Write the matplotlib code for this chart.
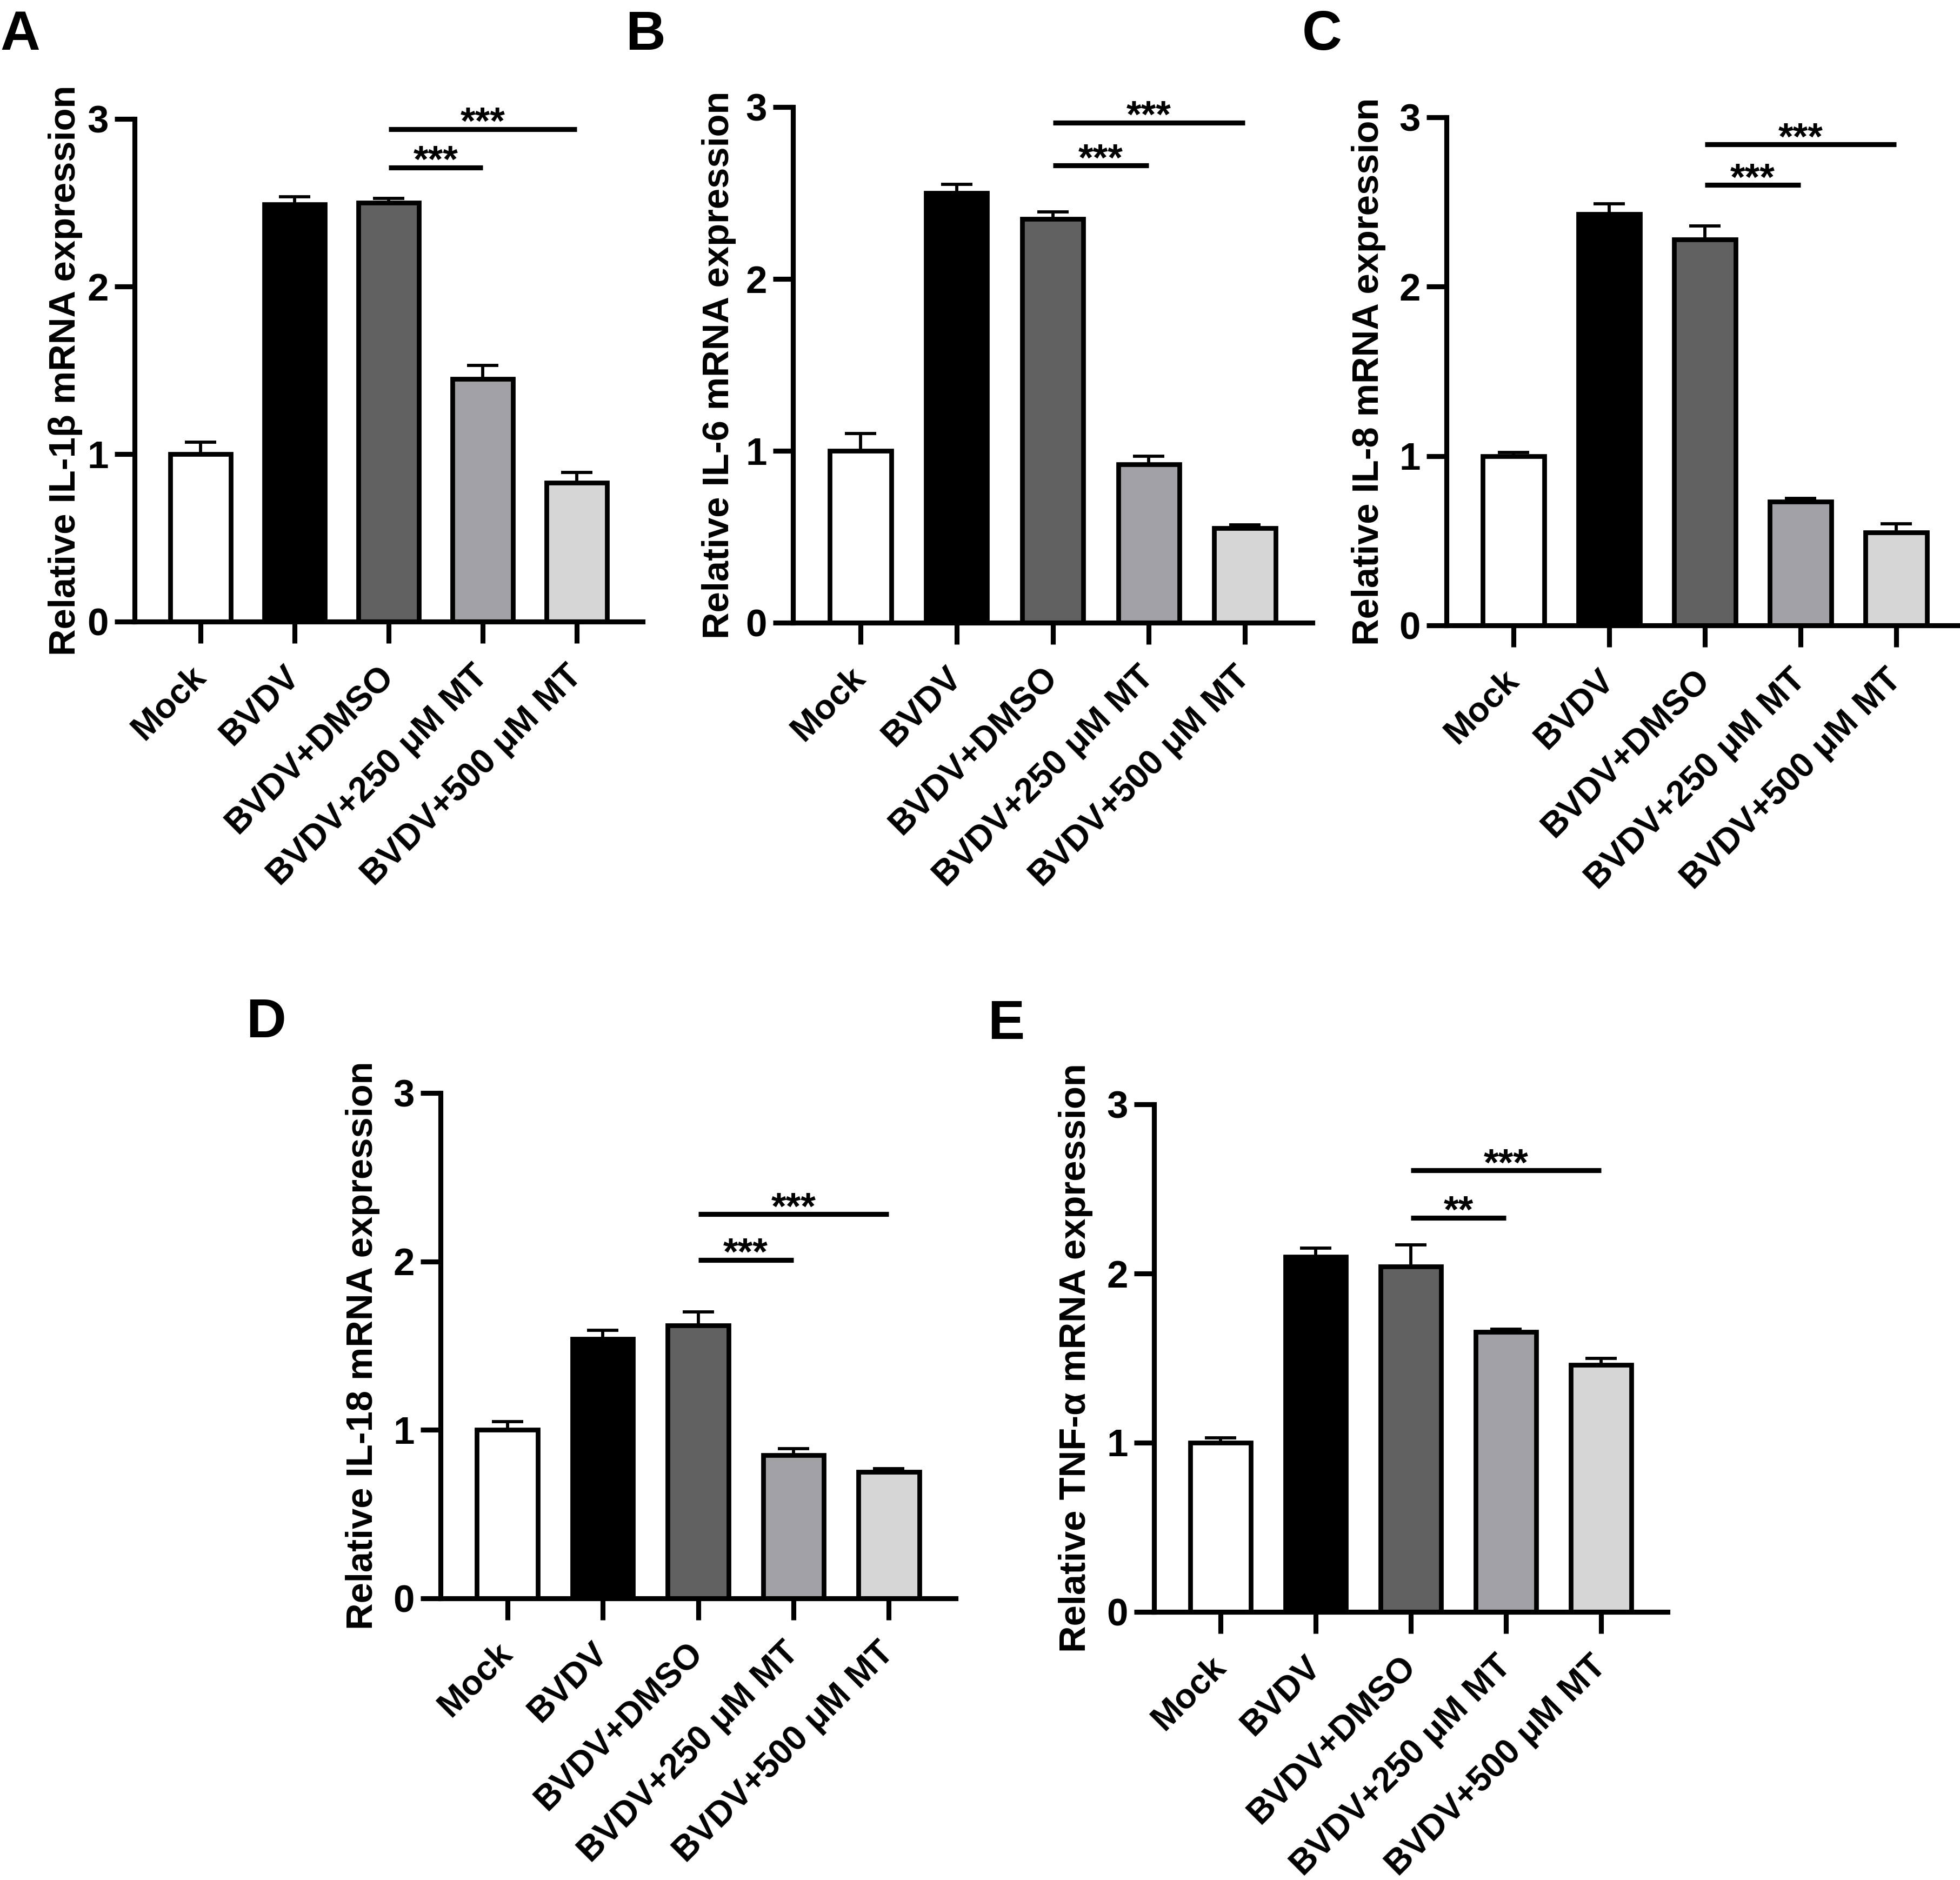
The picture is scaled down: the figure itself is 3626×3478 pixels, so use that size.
import numpy as np
import matplotlib
matplotlib.use("Agg")
import matplotlib.pyplot as plt

plt.rcParams["font.family"] = ["Liberation Sans", "DejaVu Sans"]
plt.rcParams["font.weight"] = "bold"

W, H = 3626, 3478
DPI = 300

groups = ["Mock", "BVDV", "BVDV+DMSO", "BVDV+250 μM MT", "BVDV+500 μM MT"]
bar_colors = ["#ffffff", "#000000", "#616161", "#a2a1a6", "#d6d6d6"]

il1b_mean = [1.00, 2.49, 2.50, 1.45, 0.83]
il1b_err = [0.07, 0.045, 0.025, 0.08, 0.06]
il6_mean = [1.00, 2.50, 2.35, 0.92, 0.55]
il6_err = [0.10, 0.05, 0.04, 0.05, 0.02]
il8_mean = [1.00, 2.43, 2.28, 0.73, 0.55]
il8_err = [0.02, 0.06, 0.08, 0.02, 0.05]
il18_mean = [1.00, 1.54, 1.62, 0.85, 0.75]
il18_err = [0.05, 0.05, 0.08, 0.04, 0.02]
tnf_mean = [1.00, 2.10, 2.04, 1.655, 1.46]
tnf_err = [0.03, 0.05, 0.13, 0.015, 0.04]

# significance brackets: (from group, to group, height, stars)
il1b_sig = [(2, 3, 2.71, "***"), (2, 4, 2.94, "***")]
il6_sig = [(2, 3, 2.66, "***"), (2, 4, 2.91, "***")]
il8_sig = [(2, 3, 2.60, "***"), (2, 4, 2.84, "***")]
il18_sig = [(2, 3, 2.01, "***"), (2, 4, 2.28, "***")]
tnf_sig = [(2, 3, 2.33, "**"), (2, 4, 2.61, "***")]

fig = plt.figure(figsize=(W / DPI, H / DPI), dpi=DPI)


def panel(left, right, y0, y3, means, errs, sigs, ylabel, label_x, letter, letter_xy):
    ax = fig.add_axes([left / W, 1 - y0 / H, (right - left) / W, (y0 - y3) / H])
    x = np.arange(len(groups))
    ax.bar(x, means, width=0.64, color=bar_colors, edgecolor="black",
           linewidth=2.1, zorder=2)
    ax.errorbar(x, means, yerr=[np.zeros(len(errs)), errs], fmt="none",
                ecolor="black", elinewidth=1.4, capsize=7, capthick=1.4, zorder=1)
    for a, b, h, s in sigs:
        ax.plot([a, b], [h, h], color="black", lw=2.2, solid_capstyle="butt",
                clip_on=False)
        ax.text((a + b) / 2, h - 0.03, s, ha="center", va="baseline",
                fontsize=17, fontweight="bold")
    ax.set_xlim(-0.7, 4.7)
    ax.set_ylim(0, 3)
    ax.set_yticks([0, 1, 2, 3])
    ax.set_xticks(x)
    ax.set_xticklabels(groups, rotation=45, ha="right", va="center",
                       rotation_mode="anchor", fontsize=15.5, fontweight="bold")
    ax.tick_params(axis="y", labelsize=17, width=2.2, length=9, pad=2.5)
    ax.tick_params(axis="x", width=2.2, length=9.5, pad=12.5)
    for t in ax.get_yticklabels():
        t.set_fontweight("bold")
    for side in ["top", "right"]:
        ax.spines[side].set_visible(False)
    for side in ["left", "bottom"]:
        ax.spines[side].set_linewidth(2.2)
    fig.text(label_x / W, 1 - (y0 + y3) / 2 / H, ylabel, rotation=90,
             ha="center", va="center", fontsize=16.5, fontweight="bold")
    fig.text(letter_xy[0] / W, 1 - letter_xy[1] / H, letter, ha="left",
             va="baseline", fontsize=24.5, fontweight="bold")
    return ax


panel(249, 1189, 1150, 220, il1b_mean, il1b_err, il1b_sig,
      "Relative IL-1β mRNA expression", 121, "A", (0, 92))
panel(1467, 2428, 1152, 198, il6_mean, il6_err, il6_sig,
      "Relative IL-6 mRNA expression", 1330, "B", (1157, 92))
panel(2676, 3632, 1157, 217, il8_mean, il8_err, il8_sig,
      "Relative IL-8 mRNA expression", 2532, "C", (2409, 92))
panel(815, 1768, 2957, 2022, il18_mean, il18_err, il18_sig,
      "Relative IL-18 mRNA expression", 671, "D", (455, 1919))
panel(2135, 3085, 2982, 2043, tnf_mean, tnf_err, tnf_sig,
      "Relative TNF-α mRNA expression", 1990, "E", (1827, 1922))

fig.savefig("out.png", dpi=DPI, facecolor="white")
